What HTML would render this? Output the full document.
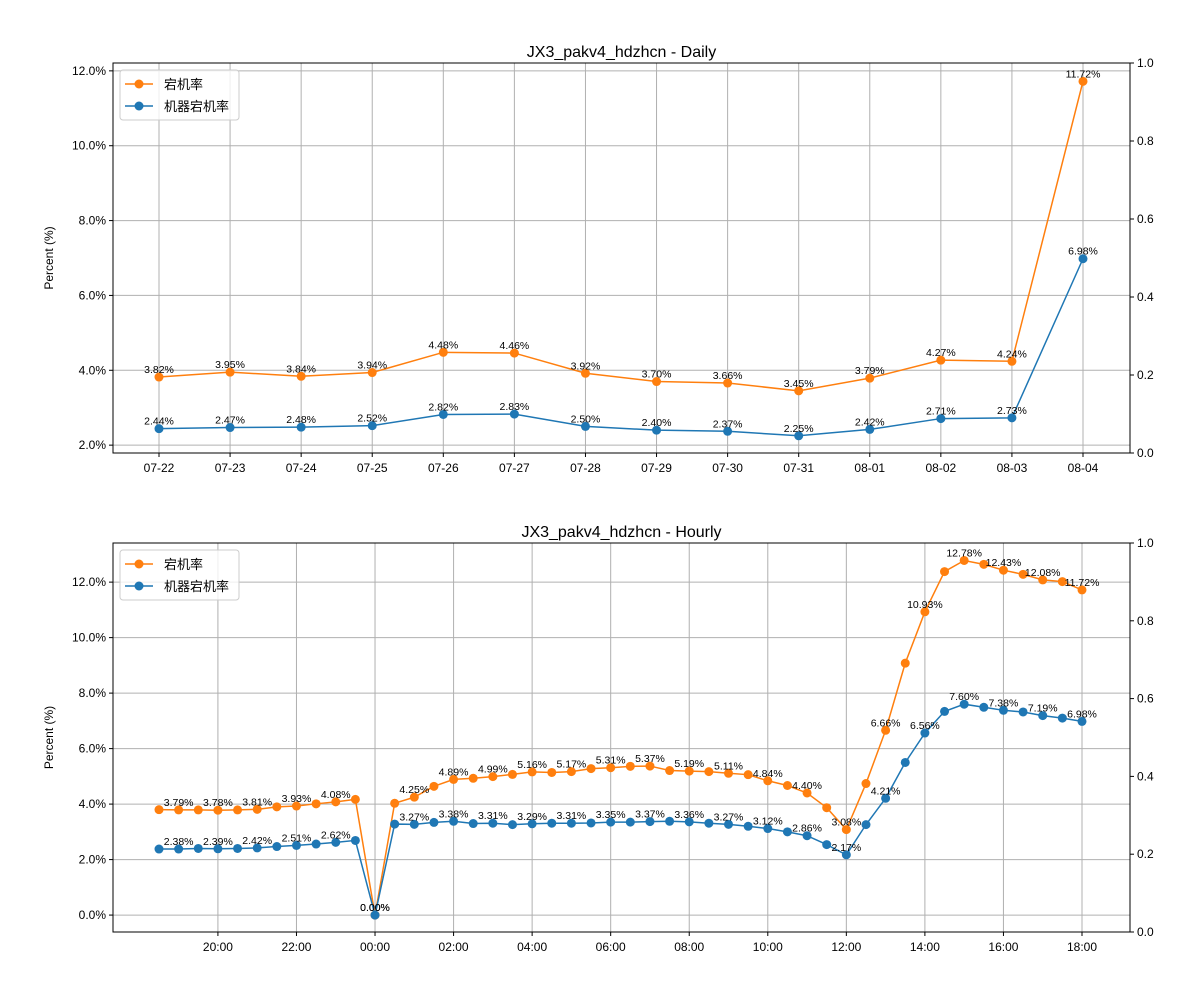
<!DOCTYPE html>
<html><head><meta charset="utf-8">
<style>
body{margin:0;background:#fff;}
svg{display:block;font-family:"Liberation Sans","Noto Sans CJK SC",sans-serif;}
</style></head>
<body>
<svg id="c" width="1200" height="1000" xmlns="http://www.w3.org/2000/svg"></svg>
<script>
const dailyCats=["07-22","07-23","07-24","07-25","07-26","07-27","07-28","07-29","07-30","07-31","08-01","08-02","08-03","08-04"];
const dailyCrash=[3.82,3.95,3.84,3.94,4.48,4.46,3.92,3.70,3.66,3.45,3.79,4.27,4.24,11.72];
const dailyMachine=[2.44,2.47,2.48,2.52,2.82,2.83,2.50,2.40,2.37,2.25,2.42,2.71,2.73,6.98];
const dailyYTicks=[2,4,6,8,10,12];
const hourlyXTicks=["20:00","22:00","00:00","02:00","04:00","06:00","08:00","10:00","12:00","14:00","16:00","18:00"];
const hourlyXTickHours=[1.5,3.5,5.5,7.5,9.5,11.5,13.5,15.5,17.5,19.5,21.5,23.5];
const hourlyCrash=[3.80,3.79,3.79,3.78,3.79,3.81,3.90,3.93,4.01,4.08,4.17,0.00,4.03,4.25,4.64,4.89,4.93,4.99,5.07,5.16,5.14,5.17,5.28,5.31,5.36,5.37,5.21,5.19,5.17,5.11,5.06,4.84,4.67,4.40,3.87,3.08,4.74,6.66,9.08,10.93,12.38,12.78,12.64,12.43,12.28,12.08,12.02,11.72];
const hourlyMachine=[2.38,2.38,2.40,2.39,2.40,2.42,2.47,2.51,2.56,2.62,2.69,0.00,3.28,3.27,3.34,3.38,3.30,3.31,3.26,3.29,3.31,3.31,3.32,3.35,3.35,3.37,3.38,3.36,3.31,3.27,3.20,3.12,3.00,2.86,2.54,2.17,3.26,4.21,5.50,6.56,7.34,7.60,7.49,7.38,7.32,7.19,7.10,6.98];
const hourlyYTicks=[0,2,4,6,8,10,12];
const rightTicks=[0,0.2,0.4,0.6,0.8,1.0];

const NS="http://www.w3.org/2000/svg";
const svg=document.getElementById('c');
function el(t,a,p){const e=document.createElementNS(NS,t);for(const k in a)e.setAttribute(k,a[k]);(p||svg).appendChild(e);return e;}
const OR="#ff7f0e",BL="#1f77b4";

function panel(o){
  const g=el('g',{});
  
  
  const L=113,R=1130,T=o.top,B=o.bottom;
  const y=v=>B-(v-o.ymin)/(o.ymax-o.ymin)*(B-T);
  const x=o.x;
  o.xt.forEach((t,i)=>{const xx=x(o.xtPos[i]);const l=el('line',{x1:xx,x2:xx,y1:T,y2:B,stroke:'#b0b0b0','stroke-width':1},g);
    });
  o.yt.forEach(v=>{const l=el('line',{x1:L,x2:R,y1:y(v),y2:y(v),stroke:'#b0b0b0','stroke-width':1},g);
    });
  [[o.s1,OR,'crash-rate'],[o.s2,BL,'machine-crash-rate']].forEach(([d,c,n])=>{
    const pts=d.map((v,i)=>x(i)+','+y(v)).join(' ');
    const pl=el('polyline',{points:pts,fill:'none',stroke:c,'stroke-width':1.5},g);
    
    d.forEach((v,i)=>{const ci=el('circle',{cx:x(i),cy:y(v),r:4.5,fill:c},g);
      
      if(o.labelIf(i)){const t=el('text',{x:x(i),y:y(v)-4,'font-size':10.5,'text-anchor':'middle',fill:'#000'},g);t.textContent=v.toFixed(2)+'%';
        }
    });
  });
  const f=el('rect',{x:L,y:T,width:R-L,height:B-T,fill:'none',stroke:'#000','stroke-width':1},g);
  
  o.xt.forEach((t,i)=>{const xx=x(o.xtPos[i]);el('line',{x1:xx,x2:xx,y1:B,y2:B+4,stroke:'#000'},g);
    const tx=el('text',{x:xx,y:B+19,'font-size':12,'text-anchor':'middle'},g);tx.textContent=t;
    });
  o.yt.forEach(v=>{el('line',{x1:L-4,x2:L,y1:y(v),y2:y(v),stroke:'#000'},g);
    const tx=el('text',{x:L-7,y:y(v)+4,'font-size':12,'text-anchor':'end'},g);tx.textContent=v.toFixed(1)+'%';
    });
  rightTicks.forEach(v=>{const yy=B-v*(B-T);el('line',{x1:R,x2:R+4,y1:yy,y2:yy,stroke:'#000'},g);
    const tx=el('text',{x:R+7,y:yy+4,'font-size':12},g);tx.textContent=v.toFixed(1);
    });
  const ti=el('text',{x:(L+R)/2,y:T-6,'font-size':16,'text-anchor':'middle'},g);ti.textContent=o.title;
  
  const yl=el('text',{x:0,y:0,'font-size':12,'text-anchor':'middle',transform:`translate(53,${(T+B)/2}) rotate(-90)`},g);yl.textContent='Percent (%)';
  
  const lg=el('g',{},g);
  el('rect',{x:120,y:T+7,width:119,height:50,rx:3,fill:'#fff','fill-opacity':0.8,stroke:'#ccc'},lg);
  [['宕机率',OR],['机器宕机率',BL]].forEach(([n,c],i)=>{const yy=T+21+i*22;
    el('line',{x1:125,x2:153,y1:yy,y2:yy,stroke:c,'stroke-width':1.5},lg);el('circle',{cx:139,cy:yy,r:4.5,fill:c},lg);
    const t=el('text',{x:164,y:yy+5,'font-size':13},lg);t.textContent=n;
    });
}
panel({name:'daily-chart',top:63,bottom:453,ymin:1.79,ymax:12.21,title:'JX3_pakv4_hdzhcn - Daily',
  x:i=>159+i*(1083-159)/13,xt:dailyCats,xtPos:dailyCats.map((c,i)=>i),yt:dailyYTicks,
  s1:dailyCrash,s2:dailyMachine,labelIf:()=>true});
panel({name:'hourly-chart',top:543,bottom:932,ymin:-0.61,ymax:13.41,title:'JX3_pakv4_hdzhcn - Hourly',
  x:i=>159+i*(1082-159)/47,xt:hourlyXTicks,xtPos:hourlyXTickHours.map(h=>h*2),yt:hourlyYTicks,
  s1:hourlyCrash,s2:hourlyMachine,labelIf:i=>i%2===1});
</script>
</body></html>
